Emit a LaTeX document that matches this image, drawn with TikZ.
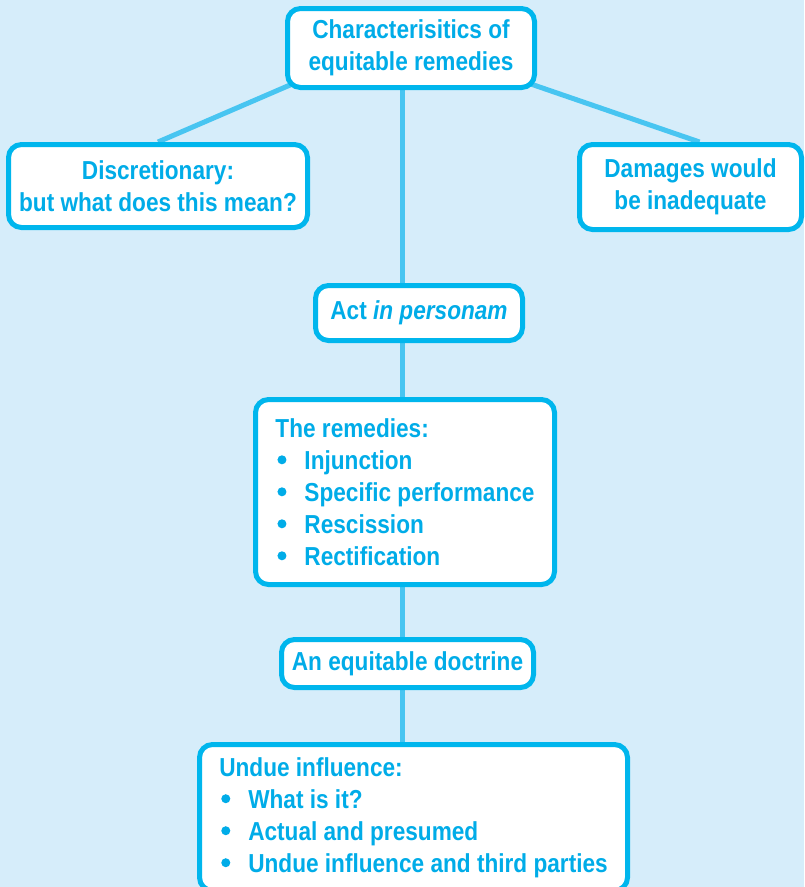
\documentclass[tikz,border=0pt]{standalone}
\usepackage{fontspec}
\setmainfont{Liberation Sans}[FakeStretch=0.87]
\usepackage{tikz}
\pgfdeclarelayer{back}
\pgfdeclarelayer{wires}
\pgfsetlayers{back,wires,main}
\definecolor{paleblue}{RGB}{214,237,250}
\definecolor{boxline}{RGB}{0,182,237}
\definecolor{wireline}{RGB}{72,197,241}
\definecolor{inkblue}{RGB}{0,172,232}
\newcommand{\dotitem}[1]{\makebox[29pt][l]{\hspace{2pt}\tikz[baseline]\fill[inkblue] (4.5pt,9.5pt) circle (4.5pt);}#1}

\begin{document}
\begin{tikzpicture}[x=1pt,y=-1pt,
  box/.style={draw=boxline,line width=5pt,fill=white,rounded corners=13pt,
    inner sep=0pt,text=inkblue,align=center,
    font=\fontsize{26}{32}\selectfont\bfseries},
  wire/.style={draw=wireline,line width=5pt}]%
\useasboundingbox (0,0) rectangle (804,887);%
\begin{pgfonlayer}{back}%
\fill[paleblue] (0,0) rectangle (804,887);%
\end{pgfonlayer}%
\coordinate (spine) at (402,0);%
\node[box,minimum width=247pt,minimum height=79pt] (top) at (411,48) {Characterisitics of\\equitable remedies};%
\node[box,minimum width=299pt,minimum height=83pt] (disc) at (158,186) {Discretionary:\\but what does this mean?};%
\node[box,minimum width=222pt,minimum height=85pt] (dam) at (690.5,187) {Damages would\\be inadequate};%
\node[box,minimum width=207pt,minimum height=55pt] (act) at (419,313) {Act \textit{in personam}};%
\node[box,align=left,minimum width=299pt,minimum height=185pt] (rem) at (405,492) {The remedies:\\\dotitem{Injunction}\\\dotitem{Specific performance}\\\dotitem{Rescission}\\\dotitem{Rectification}};%
\node[box,minimum width=252pt,minimum height=48pt] (doc) at (407.5,663.5) {An equitable doctrine};%
\node[box,align=left,minimum width=428pt,minimum height=146pt] (und) at (413.5,817.5) {Undue influence:\\\dotitem{What is it?}\\\dotitem{Actual and presumed}\\\dotitem{Undue influence and third parties}};%
\begin{pgfonlayer}{wires}%
\draw[wire] ([xshift=12pt,yshift=8pt]top.south west) -- (disc.north);%
\draw[wire] ([xshift=-12pt,yshift=8pt]top.south east) -- ([xshift=9pt]dam.north);%
\draw[wire] (top.south -| spine) -- (act.north -| spine);%
\draw[wire] (act.south -| spine) -- (rem.north -| spine);%
\draw[wire] (rem.south -| spine) -- (doc.north -| spine);%
\draw[wire] (doc.south -| spine) -- (und.north -| spine);%
\end{pgfonlayer}%
\end{tikzpicture}
\end{document}
